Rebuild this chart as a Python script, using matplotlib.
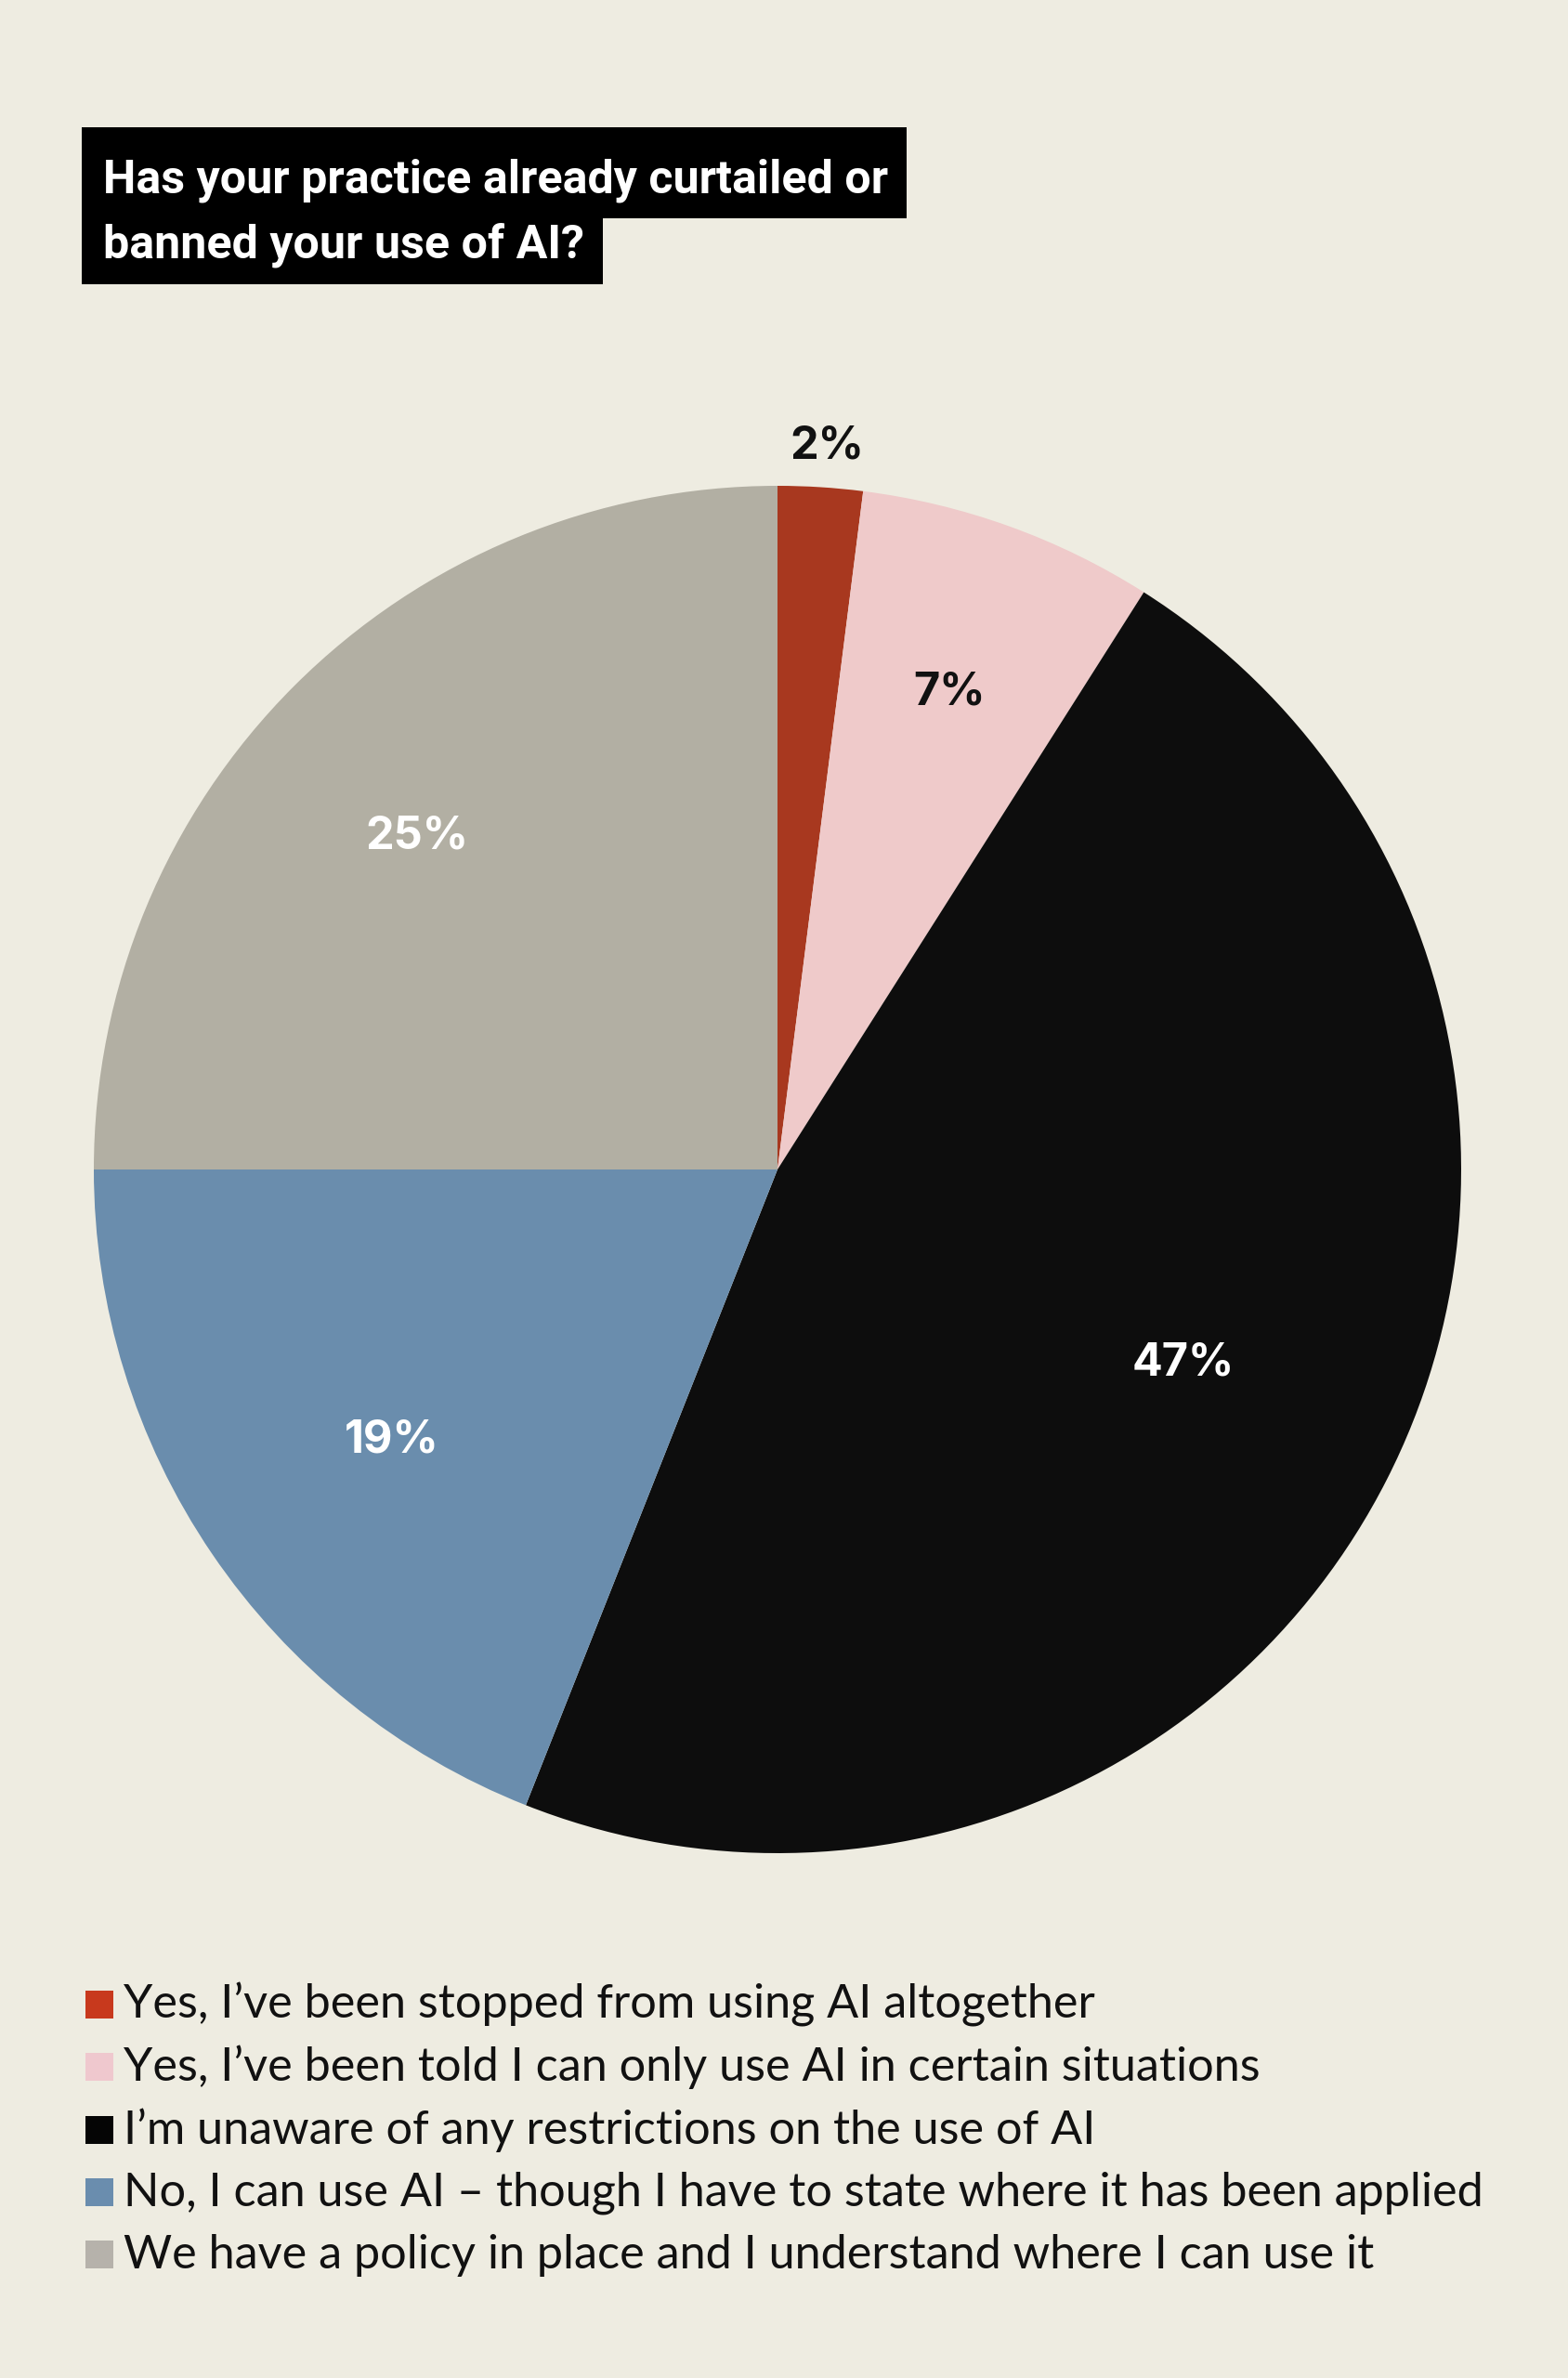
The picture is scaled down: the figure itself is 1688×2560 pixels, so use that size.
import matplotlib
matplotlib.use("Agg")
import matplotlib.pyplot as plt
from matplotlib.patches import Rectangle
import numpy as np

# ---- data ----
title_lines = ["Has your practice already curtailed or", "banned your use of AI?"]
categories = [
    "Yes, I\u2019ve been stopped from using AI altogether",
    "Yes, I\u2019ve been told I can only use AI in certain situations",
    "I\u2019m unaware of any restrictions on the use of AI",
    "No, I can use AI \u2013 though I have to state where it has been applied",
    "We have a policy in place and I understand where I can use it",
]
values = [2, 7, 47, 19, 25]
slice_colors = ["#A8381F", "#EFCACA", "#0D0D0D", "#6A8DAD", "#B2AFA3"]
legend_colors = ["#C8391D", "#EFC8CE", "#050505", "#6A8DAE", "#B6B2AB"]
label_colors = ["#111111", "#111111", "#FFFFFF", "#FFFFFF", "#FFFFFF"]
label_dist = [1.067, 0.748, 0.655, 0.686, 0.723]
label_turn = [0.3, -0.2, -2.0, -0.4, -1.9]   # degrees, clockwise

BG = "#EEECE1"
W, H = 1688, 2560
fig = plt.figure(figsize=(W / 100, H / 100), dpi=100, facecolor=BG)
renderer = fig.canvas.get_renderer()


def fx(x):
    return x / W


def fy(y):
    return 1 - y / H


def fit(t, target_w):
    fs = t.get_fontsize()
    w = t.get_window_extent(renderer).width
    t.set_fontsize(fs * target_w / w)
    return t


# ---- pie ----
cx, cy, R = 837, 1259, 736
ax = fig.add_axes([fx(cx - R), fy(cy + R), 2 * R / W, 2 * R / H])
ax.set_facecolor(BG)
wedges, _ = ax.pie(values, colors=slice_colors, startangle=90, counterclock=False,
                   radius=1, wedgeprops=dict(linewidth=0, antialiased=True))
ax.set_xlim(-1, 1)
ax.set_ylim(-1, 1)
ax.set_aspect("equal")
ax.axis("off")

for w, v, c, d, turn in zip(wedges, values, label_colors, label_dist, label_turn):
    th = np.deg2rad((w.theta1 + w.theta2) / 2 - turn)
    ax.text(d * np.cos(th), d * np.sin(th), f"{v}%", ha="center", va="center_baseline",
            fontsize=35, fontweight="bold", family="Inter", color=c)

# ---- title ----
tx = 111
base = [207, 277]
box_top = [137, 235]
box_bot = [235, 306]
tt = []
for i, line in enumerate(title_lines):
    t = fig.text(fx(tx), fy(base[i]), line, ha="left", va="baseline", color="white",
                 fontsize=30, fontweight="bold", family="Roboto", zorder=5)
    tt.append(t)
fit(tt[0], 843)
tt[1].set_fontsize(tt[0].get_fontsize())
for i, t in enumerate(tt):
    ext = t.get_window_extent(renderer)
    right = ext.x1 + 20
    fig.add_artist(Rectangle((fx(88), fy(box_bot[i])), fx(right - 88),
                             (box_bot[i] - box_top[i]) / H, transform=fig.transFigure,
                             facecolor="black", edgecolor="none", zorder=4))

# ---- legend ----
sq_x, sq_size, txt_x = 92, 30, 133
row0, dy = 2143, 67.3
lt = []
for i, (lab, col) in enumerate(zip(categories, legend_colors)):
    top = row0 + i * dy
    fig.add_artist(Rectangle((fx(sq_x), fy(top + sq_size)), sq_size / W, sq_size / H,
                             transform=fig.transFigure, facecolor=col, edgecolor="none"))
    t = fig.text(fx(txt_x), fy(top + sq_size), lab, ha="left", va="baseline",
                 fontsize=30, family="Lato", color="#111111")
    lt.append(t)
fit(lt[3], 1462)
for t in lt:
    t.set_fontsize(lt[3].get_fontsize())

fig.savefig("out.png", dpi=100, facecolor=BG)
